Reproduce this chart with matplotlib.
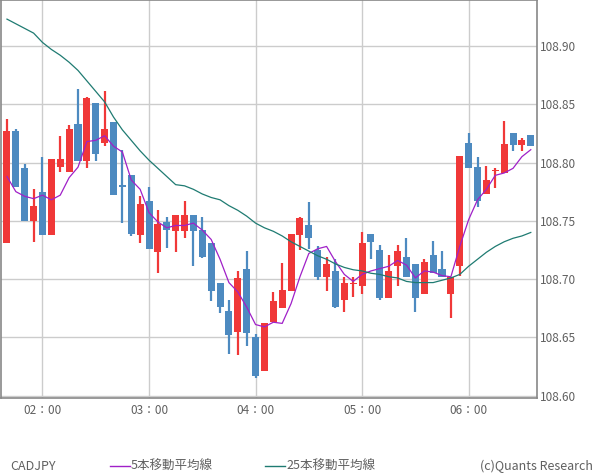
import matplotlib.pyplot as plt
import numpy as np

plt.rcParams['font.family'] = ['Noto Sans CJK JP', 'DejaVu Sans']

times = ["01:40", "01:45", "01:50", "01:55", "02:00"]  # first bars, 5-minute bars follow
opens = [108.731, 108.827, 108.795, 108.750, 108.775, 108.738, 108.796, 108.792, 108.833, 108.801,
         108.851, 108.817, 108.835, 108.781, 108.789, 108.738, 108.767, 108.723, 108.749, 108.741,
         108.741, 108.755, 108.742, 108.731, 108.697, 108.673, 108.655, 108.709, 108.650, 108.621,
         108.663, 108.675, 108.690, 108.738, 108.746, 108.725, 108.702, 108.707, 108.682, 108.696,
         108.694, 108.739, 108.725, 108.684, 108.711, 108.719, 108.713, 108.687, 108.721, 108.709,
         108.687, 108.711, 108.817, 108.796, 108.773, 108.793, 108.791, 108.825, 108.815, 108.824]
highs = [108.837, 108.829, 108.799, 108.777, 108.805, 108.803, 108.823, 108.832, 108.863, 108.856,
         108.851, 108.861, 108.835, 108.811, 108.789, 108.771, 108.779, 108.759, 108.753, 108.755,
         108.767, 108.755, 108.753, 108.731, 108.697, 108.682, 108.707, 108.724, 108.653, 108.662,
         108.689, 108.714, 108.739, 108.753, 108.766, 108.728, 108.719, 108.717, 108.702, 108.702,
         108.740, 108.739, 108.729, 108.721, 108.729, 108.735, 108.713, 108.717, 108.733, 108.724,
         108.702, 108.806, 108.825, 108.805, 108.797, 108.795, 108.836, 108.825, 108.821, 108.824]
lows = [108.731, 108.779, 108.750, 108.732, 108.738, 108.738, 108.792, 108.792, 108.801, 108.795,
        108.801, 108.814, 108.772, 108.748, 108.737, 108.731, 108.726, 108.705, 108.727, 108.723,
        108.735, 108.711, 108.718, 108.681, 108.671, 108.636, 108.635, 108.643, 108.615, 108.621,
        108.663, 108.675, 108.690, 108.725, 108.726, 108.699, 108.690, 108.675, 108.672, 108.685,
        108.687, 108.717, 108.682, 108.684, 108.694, 108.702, 108.672, 108.687, 108.705, 108.702,
        108.667, 108.703, 108.795, 108.762, 108.773, 108.778, 108.791, 108.810, 108.810, 108.814]
closes = [108.827, 108.779, 108.750, 108.763, 108.738, 108.803, 108.803, 108.829, 108.801, 108.855,
          108.807, 108.829, 108.772, 108.779, 108.739, 108.764, 108.726, 108.747, 108.742, 108.755,
          108.755, 108.741, 108.719, 108.690, 108.676, 108.652, 108.701, 108.654, 108.617, 108.662,
          108.681, 108.691, 108.739, 108.752, 108.735, 108.702, 108.713, 108.676, 108.697, 108.697,
          108.731, 108.732, 108.684, 108.707, 108.724, 108.702, 108.684, 108.715, 108.705, 108.702,
          108.702, 108.806, 108.795, 108.767, 108.785, 108.793, 108.816, 108.815, 108.819, 108.814]
ma5 = [108.788, 108.775, 108.771, 108.769, 108.772, 108.768, 108.772, 108.787, 108.796, 108.818,
       108.819, 108.823, 108.814, 108.809, 108.785, 108.777, 108.757, 108.749, 108.744, 108.746,
       108.746, 108.748, 108.742, 108.734, 108.717, 108.697, 108.689, 108.676, 108.661, 108.659,
       108.663, 108.662, 108.679, 108.702, 108.722, 108.726, 108.728, 108.715, 108.704, 108.698,
       108.704, 108.707, 108.709, 108.711, 108.716, 108.712, 108.701, 108.707, 108.706, 108.703,
       108.702, 108.728, 108.751, 108.768, 108.777, 108.789, 108.791, 108.795, 108.805, 108.811]
ma25 = [108.923, 108.919, 108.915, 108.911, 108.903, 108.897, 108.892, 108.886, 108.879, 108.870,
        108.861, 108.852, 108.839, 108.828, 108.819, 108.810, 108.802, 108.795, 108.788, 108.781,
        108.780, 108.777, 108.773, 108.770, 108.768, 108.763, 108.759, 108.754, 108.748, 108.744,
        108.741, 108.737, 108.732, 108.728, 108.724, 108.720, 108.717, 108.713, 108.710, 108.708,
        108.707, 108.705, 108.704, 108.702, 108.701, 108.698, 108.697, 108.697, 108.697, 108.699,
        108.701, 108.704, 108.711, 108.717, 108.723, 108.728, 108.732, 108.735, 108.737, 108.740]
tick_labels = ["02：00", "03：00", "04：00", "05：00", "06：00"]
tick_idx = [4, 16, 28, 40, 52]
y_ticks = [108.60, 108.65, 108.70, 108.75, 108.80, 108.85, 108.90]

red = '#f03838'
blue = '#4d8ac0'
txt = '#606060'

fig = plt.figure(figsize=(6, 4.75), dpi=100)
ax = fig.add_axes([0.002, 1 - 398 / 475, 0.893, 398 / 475])

o = np.array(opens)
c = np.array(closes)
x = np.arange(len(o))
up = c >= o
cols = np.where(up, red, blue)
ax.vlines(x, lows, highs, colors=cols, linewidth=1.6, zorder=3)
body = np.maximum(np.abs(c - o), 0.0009)
ax.bar(x, body, bottom=np.minimum(o, c), width=0.79, color=cols, zorder=3)

ax.plot(x, ma5, color='#a020c8', linewidth=0.9, zorder=4)
ax.plot(x, ma25, color='#1f7b72', linewidth=0.9, zorder=4)

ax.set_xlim(-0.65, 59.7)
ax.set_ylim(108.598, 108.9394)
ax.set_xticks(tick_idx)
ax.set_xticklabels(tick_labels)
ax.set_yticks(y_ticks)
ax.set_yticklabels(["%.2f" % v for v in y_ticks])
ax.yaxis.tick_right()
ax.tick_params(length=0, labelsize=8.5, colors=txt)
ax.tick_params(axis='y', pad=2)
ax.tick_params(axis='x', pad=4)
ax.grid(True, color='#cccccc', linewidth=1.0, zorder=0)
for s in ax.spines.values():
    s.set_color('#888888')
    s.set_linewidth(1.2)

fig.text(10 / 600, 1 - 466 / 475, "CADJPY", fontsize=9, color=txt, va='center')
fig.add_artist(plt.Line2D([110 / 600, 130 / 600], [1 - 466 / 475] * 2, color='#a020c8', linewidth=1.0))
fig.text(131 / 600, 1 - 466 / 475, "5本移動平均線", fontsize=9, color=txt, va='center')
fig.add_artist(plt.Line2D([265 / 600, 285 / 600], [1 - 466 / 475] * 2, color='#1f7b72', linewidth=1.0))
fig.text(286 / 600, 1 - 466 / 475, "25本移動平均線", fontsize=9, color=txt, va='center')
fig.text(593 / 600, 1 - 466 / 475, "(c)Quants Research", fontsize=9, color=txt, va='center', ha='right')

plt.savefig("out.png", dpi=100)
